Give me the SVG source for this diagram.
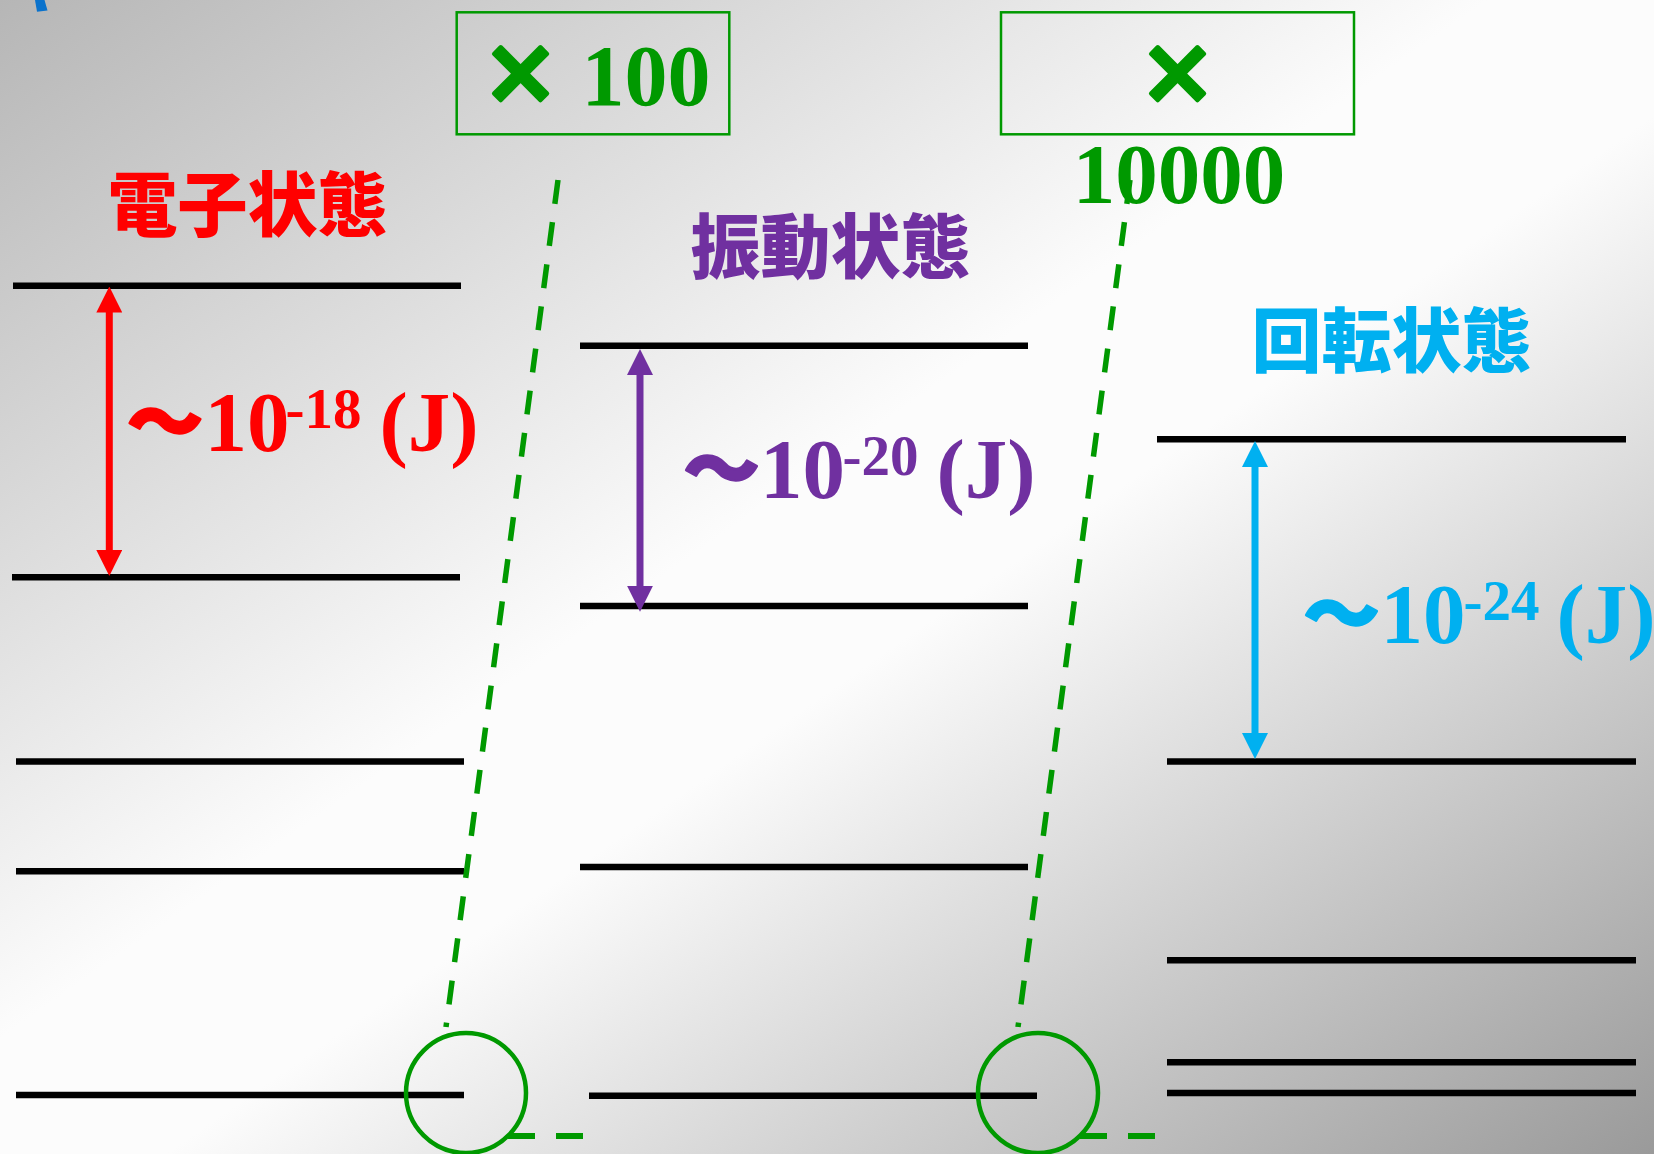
<svg xmlns="http://www.w3.org/2000/svg" width="1654" height="1154" viewBox="0 0 1654 1154">
  <defs>
    <linearGradient id="bg" x1="0" y1="0" x2="1" y2="1">
      <stop offset="0" stop-color="#b6b6b6"/>
      <stop offset="0.45" stop-color="#fcfcfc"/>
      <stop offset="0.55" stop-color="#fcfcfc"/>
      <stop offset="1" stop-color="#9a9a9a"/>
    </linearGradient>
    <marker id="ah-red" viewBox="0 0 26 26" markerWidth="26" markerHeight="26" markerUnits="userSpaceOnUse" refX="13" refY="13" orient="auto-start-reverse">
      <path d="M0,0 L26,13 L0,26 z" fill="#ff0000"/>
    </marker>
    <marker id="ah-purple" viewBox="0 0 26 26" markerWidth="26" markerHeight="26" markerUnits="userSpaceOnUse" refX="13" refY="13" orient="auto-start-reverse">
      <path d="M0,0 L26,13 L0,26 z" fill="#7030a0"/>
    </marker>
    <marker id="ah-blue" viewBox="0 0 26 26" markerWidth="26" markerHeight="26" markerUnits="userSpaceOnUse" refX="13" refY="13" orient="auto-start-reverse">
      <path d="M0,0 L26,13 L0,26 z" fill="#00b0f0"/>
    </marker>
    <style>
      .lvl { stroke: #000; stroke-width: 6.5; fill: none; }
      .jp { font-family: "Noto Sans CJK JP", "Noto Sans CJK SC", sans-serif; font-weight: 900; font-size: 70px; text-anchor: middle; }
      .tm { font-family: "Liberation Serif", "Times New Roman", serif; font-weight: bold; text-anchor: middle; }
      .big { font-size: 85px; }
      .sup { font-size: 57px; }
      .tilde { font-family: "Noto Sans CJK JP", sans-serif; font-weight: 900; font-size: 76px; text-anchor: middle; stroke-width: 2.5; stroke-linejoin: round; }
      .times { font-family: "Noto Sans CJK JP", sans-serif; font-weight: 900; font-size: 80px; text-anchor: middle; fill: #009900; stroke: #009900; stroke-width: 4; stroke-linejoin: round; }
      .green { fill: #009900; }
      .box { fill: none; stroke: #009900; stroke-width: 2.5; }
      .dash { fill: none; stroke: #009900; stroke-width: 5.5; stroke-dasharray: 24 18.5; }
      .hdash { fill: none; stroke: #009900; stroke-width: 6; stroke-dasharray: 27 21; }
      .ring { fill: none; stroke: #009900; stroke-width: 4.5; }
      .arr { stroke-width: 7; fill: none; }
    </style>
  </defs>

  <rect x="0" y="0" width="1654" height="1154" fill="url(#bg)"/>
  <polygon points="35,0 44.5,0 47.5,10.5 37,11.7" fill="#0a72cc"/>

  <g id="electronic-levels">
    <line class="lvl" x1="13" y1="285.7" x2="461" y2="285.7"/>
    <line class="lvl" x1="12" y1="577.3" x2="460" y2="577.3"/>
    <line class="lvl" x1="16" y1="761.6" x2="464" y2="761.6"/>
    <line class="lvl" x1="16" y1="871.3" x2="464" y2="871.3"/>
    <line class="lvl" x1="16" y1="1095" x2="464" y2="1095"/>
  </g>
  <g id="vibrational-levels">
    <line class="lvl" x1="580" y1="345.7" x2="1028" y2="345.7"/>
    <line class="lvl" x1="580" y1="606" x2="1028" y2="606"/>
    <line class="lvl" x1="580" y1="867" x2="1028" y2="867"/>
    <line class="lvl" x1="589" y1="1095.7" x2="1037" y2="1095.7"/>
  </g>
  <g id="rotational-levels">
    <line class="lvl" x1="1157" y1="439.3" x2="1626" y2="439.3"/>
    <line class="lvl" x1="1167" y1="761.6" x2="1636" y2="761.6"/>
    <line class="lvl" x1="1167" y1="960.3" x2="1636" y2="960.3"/>
    <line class="lvl" x1="1167" y1="1062.3" x2="1636" y2="1062.3"/>
    <line class="lvl" x1="1167" y1="1093" x2="1636" y2="1093"/>
  </g>

  <g id="electronic-gap">
    <line class="arr" stroke="#ff0000" x1="109.3" y1="299.5" x2="109.3" y2="563" marker-start="url(#ah-red)" marker-end="url(#ah-red)"/>
    <text class="tilde" x="165" y="450" fill="#ff0000" stroke="#ff0000">～</text>
    <text class="tm big" x="247" y="451" fill="#ff0000">10</text>
    <text class="tm sup" x="323.5" y="428" fill="#ff0000">-18</text>
    <text class="tm big" x="429" y="451" fill="#ff0000">(J)</text>
  </g>
  <g id="vibrational-gap">
    <line class="arr" stroke="#7030a0" x1="640" y1="362" x2="640" y2="598.7" marker-start="url(#ah-purple)" marker-end="url(#ah-purple)"/>
    <text class="tilde" x="721.5" y="497" fill="#7030a0" stroke="#7030a0">～</text>
    <text class="tm big" x="802.5" y="498" fill="#7030a0">10</text>
    <text class="tm sup" x="880.5" y="475" fill="#7030a0">-20</text>
    <text class="tm big" x="986" y="498" fill="#7030a0">(J)</text>
  </g>
  <g id="rotational-gap">
    <line class="arr" stroke="#00b0f0" x1="1255" y1="454" x2="1255" y2="746" marker-start="url(#ah-blue)" marker-end="url(#ah-blue)"/>
    <text class="tilde" x="1341.5" y="642" fill="#00b0f0" stroke="#00b0f0">～</text>
    <text class="tm big" x="1423" y="643" fill="#00b0f0">10</text>
    <text class="tm sup" x="1501.5" y="619.5" fill="#00b0f0">-24</text>
    <text class="tm big" x="1606" y="643" fill="#00b0f0">(J)</text>
  </g>

  <g id="title-electronic"><text class="jp" x="247.5" y="231" fill="#ff0000">電子状態</text></g>
  <g id="title-vibrational"><text class="jp" x="830.5" y="273" fill="#7030a0">振動状態</text></g>
  <g id="title-rotational"><text class="jp" x="1391.5" y="366.5" fill="#00b0f0">回転状態</text></g>

  <g id="scale-100">
    <rect class="box" x="456.7" y="12.3" width="272.6" height="122"/>
    <text class="times" x="520.5" y="104">×</text>
    <text class="tm green" x="646" y="105" style="font-size:86px">100</text>
  </g>
  <g id="scale-10000">
    <rect class="box" x="1001" y="12.3" width="353" height="122"/>
    <text class="times" x="1177.5" y="104">×</text>
    <text class="tm green" x="1179" y="203.3" style="font-size:85px">10000</text>
  </g>

  <g id="connectors">
    <path class="dash" d="M558,180 L446,1027"/>
    <path class="dash" d="M1130,180 L1018,1027"/>
    <circle class="ring" cx="466" cy="1093" r="60"/>
    <circle class="ring" cx="1038" cy="1093" r="60"/>
    <path class="hdash" d="M508,1136 L583,1136"/>
    <path class="hdash" d="M1080,1136 L1155,1136"/>
  </g>
</svg>
